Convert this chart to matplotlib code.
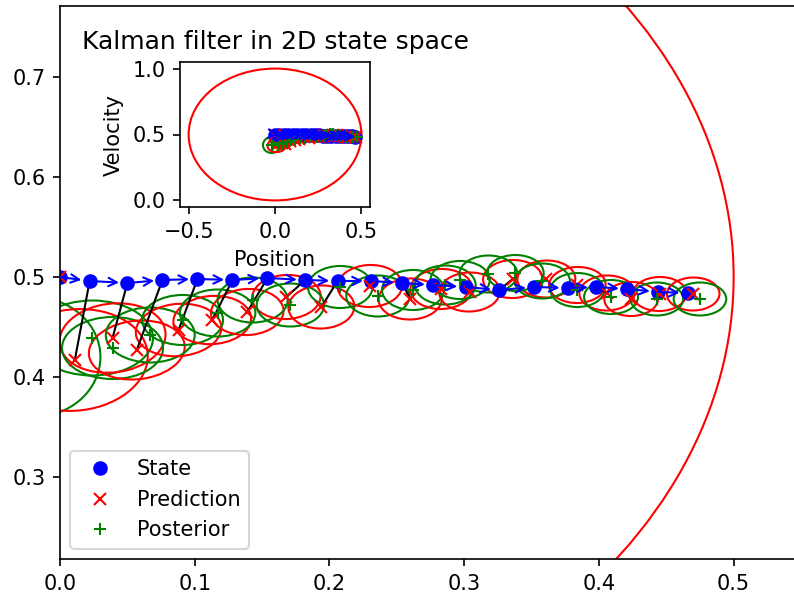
import matplotlib
matplotlib.use("Agg")
import matplotlib.pyplot as plt
from matplotlib.patches import Ellipse

# true state (position, velocity)
state_pos = [0.000, 0.022, 0.050, 0.076, 0.102, 0.128, 0.154, 0.182, 0.206, 0.231,
             0.254, 0.277, 0.301, 0.326, 0.352, 0.377, 0.398, 0.421, 0.444, 0.466]
state_vel = [0.500, 0.496, 0.494, 0.497, 0.498, 0.497, 0.499, 0.497, 0.496, 0.496,
             0.494, 0.492, 0.490, 0.487, 0.490, 0.489, 0.490, 0.488, 0.485, 0.484]

# predicted state + covariance ellipse
pred_pos = [0.000, 0.011, 0.039, 0.057, 0.088, 0.113, 0.139, 0.168, 0.194, 0.230,
            0.260, 0.283, 0.304, 0.336, 0.361, 0.384, 0.406, 0.424, 0.445, 0.470]
pred_vel = [0.500, 0.417, 0.439, 0.427, 0.447, 0.457, 0.465, 0.480, 0.470, 0.491,
            0.478, 0.488, 0.485, 0.498, 0.498, 0.492, 0.484, 0.478, 0.483, 0.483]
pred_w = [1.000, 0.110, 0.080, 0.072, 0.064, 0.058, 0.054, 0.051, 0.049, 0.048,
          0.047, 0.046, 0.045, 0.044, 0.043, 0.042, 0.041, 0.040, 0.040, 0.039]
pred_h = [1.000, 0.100, 0.068, 0.058, 0.052, 0.048, 0.046, 0.044, 0.043, 0.042,
          0.041, 0.040, 0.039, 0.038, 0.037, 0.036, 0.035, 0.034, 0.034, 0.033]
pred_ang = [0, 25, 20, 15, 12, 10, 8, 8, 6, 6, 5, 5, 5, 4, 4, 4, 4, 3, 3, 3]

# posterior state + covariance ellipse
post_pos = [-0.020, 0.024, 0.039, 0.067, 0.091, 0.117, 0.143, 0.171, 0.208, 0.236,
            0.262, 0.286, 0.297, 0.318, 0.338, 0.358, 0.384, 0.409, 0.443, 0.475]
post_vel = [0.420, 0.439, 0.429, 0.442, 0.457, 0.464, 0.477, 0.472, 0.490, 0.481,
            0.487, 0.492, 0.497, 0.503, 0.504, 0.496, 0.487, 0.480, 0.478, 0.478]
post_w = [0.100, 0.090, 0.075, 0.066, 0.060, 0.056, 0.052, 0.050, 0.048, 0.047,
          0.046, 0.045, 0.044, 0.043, 0.042, 0.041, 0.040, 0.040, 0.039, 0.039]
post_h = [0.120, 0.075, 0.062, 0.055, 0.050, 0.047, 0.045, 0.043, 0.042, 0.041,
          0.040, 0.039, 0.038, 0.037, 0.036, 0.035, 0.034, 0.034, 0.033, 0.033]


def draw(ax, legend=False):
    for i in range(len(pred_pos)):
        ax.add_patch(Ellipse((pred_pos[i], pred_vel[i]), pred_w[i], pred_h[i],
                             angle=pred_ang[i], fill=False, edgecolor='r', lw=1))
        ax.add_patch(Ellipse((post_pos[i], post_vel[i]), post_w[i], post_h[i],
                             fill=False, edgecolor='g', lw=1))
    for i in range(len(state_pos)):
        ax.plot([state_pos[i], pred_pos[i]], [state_vel[i], pred_vel[i]], 'k-', lw=1)
    for i in range(len(state_pos) - 1):
        ax.annotate('', xy=(state_pos[i + 1], state_vel[i + 1]),
                    xytext=(state_pos[i], state_vel[i]),
                    arrowprops=dict(arrowstyle='->', color='b', lw=1,
                                    shrinkA=0, shrinkB=4))
    ax.plot(state_pos, state_vel, 'bo', label='State')
    ax.plot(pred_pos, pred_vel, 'rx', label='Prediction')
    ax.plot(post_pos, post_vel, 'g+', label='Posterior')
    if legend:
        ax.legend(loc='lower left')


fig = plt.figure(figsize=(794 / 150, 594 / 150), dpi=150)
ax = fig.add_axes([60 / 794, 35 / 594, 741 / 794, 553 / 594])
draw(ax, legend=True)
ax.set_xlim(0, 0.55)
ax.set_ylim(0.218, 0.771)

ins = fig.add_axes([180 / 794, 387 / 594, 190 / 794, 145 / 594])
draw(ins)
ins.set_xlim(-0.55, 0.55)
ins.set_ylim(-0.05, 1.05)
ins.set_xlabel('Position')
ins.set_ylabel('Velocity')
ins.set_title('Kalman filter in 2D state space')

fig.savefig('out.png', dpi=150)
